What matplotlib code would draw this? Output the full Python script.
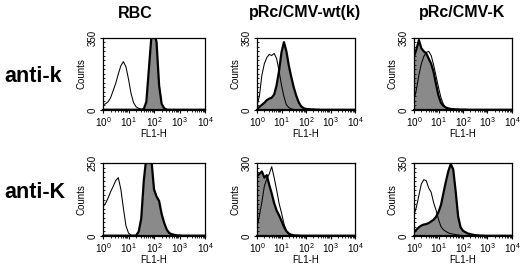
import numpy as np
import matplotlib
matplotlib.use("Agg")
import matplotlib.pyplot as plt
from matplotlib.ticker import FixedLocator, NullFormatter

plt.rcParams['font.family'] = ['Liberation Sans', 'DejaVu Sans']
plt.rcParams['mathtext.fontset'] = 'custom'
plt.rcParams['mathtext.rm'] = 'Liberation Sans'
plt.rcParams['mathtext.it'] = 'Liberation Sans'

# channel positions: decades of FL1-H (10^0 .. 10^4), one bin per 0.1 decade
decades = np.round(np.arange(0, 4.0001, 0.1), 1)

col_titles = ["RBC", "pRc/CMV-wt(k)", "pRc/CMV-K"]
row_labels = ["anti-k", "anti-K"]
y_max = [[350, 350, 350], [250, 300, 350]]
x_tick_labels = ["10$^0$", "10$^1$", "10$^2$", "10$^3$", "10$^4$"]

# Row 1 (anti-k)
rbc_k_open = [25, 30, 40, 60, 95, 130, 175, 215, 235, 210, 150, 80, 35, 15, 8, 4, 2, 1] + [0] * 23
rbc_k_fill = [1] * 15 + [1, 5, 40, 200, 360, 380, 330, 120, 30, 8, 2] + [1] * 15
wt_k_open = [20, 70, 170, 225, 255, 270, 265, 275, 250, 190, 120, 65, 25, 12, 5, 3, 1] + [0] * 24
wt_k_fill = [5, 15, 25, 35, 48, 55, 60, 75, 120, 190, 280, 330, 285, 215, 160, 110, 70, 38, 18, 9,
             5, 4, 3, 3, 2, 2] + [1] * 15
K_k_open = [50, 100, 170, 225, 260, 280, 285, 265, 220, 165, 110, 60, 28, 12, 5, 2, 1] + [0] * 24
K_k_fill = [260, 295, 340, 300, 285, 275, 250, 225, 185, 125, 70, 35, 20, 12, 8, 5, 4, 3, 3, 2,
            2, 2] + [1] * 19

# Row 2 (anti-K)
rbc_K_open = [100, 112, 130, 152, 170, 190, 200, 160, 95, 35, 10, 3, 1] + [0] * 28
rbc_K_fill = [1] * 13 + [2, 15, 60, 190, 270, 290, 260, 160, 135, 120, 75, 45, 22, 10, 6, 4, 2, 2] + [1] * 10
wt_K_open = [35, 85, 140, 205, 235, 255, 285, 240, 190, 135, 95, 50, 20, 8, 3, 1] + [0] * 25
wt_K_fill = [245, 255, 265, 240, 250, 210, 175, 135, 105, 85, 62, 38, 20, 10, 5, 3, 2, 2] + [1] * 23
K_K_open = [100, 140, 195, 250, 270, 265, 230, 210, 160, 125, 80, 45, 30, 22, 15, 11, 9, 7, 5, 3, 2] + [0] * 20
K_K_fill = [18, 30, 42, 50, 55, 57, 62, 70, 78, 92, 115, 148, 205, 260, 310, 345, 320, 215, 95, 42,
            25, 18, 12, 9, 6, 4, 3, 2, 2] + [1] * 12

open_curves = [[rbc_k_open, wt_k_open, K_k_open], [rbc_K_open, wt_K_open, K_K_open]]
fill_curves = [[rbc_k_fill, wt_k_fill, K_k_fill], [rbc_K_fill, wt_K_fill, K_K_fill]]

W, H = 520, 266
fig = plt.figure(figsize=(W / 100, H / 100), dpi=100)

col_left = [103, 257, 414]
col_width = [102, 98, 98]
row_top = [38, 163]
row_bottom = [110, 236]

x = 10 ** decades
for r in range(2):
    for c in range(3):
        l, w = col_left[c], col_width[c]
        t, b = row_top[r], row_bottom[r]
        ax = fig.add_axes([l / W, 1 - b / H, w / W, (b - t) / H])
        ym = y_max[r][c]
        fy = np.minimum(np.array(fill_curves[r][c], float), ym * 1.2)
        ax.fill_between(x, 0, fy, color='#8a8a8a', lw=0, zorder=1)
        ax.plot(x, fy, color='black', lw=1.6, zorder=3, solid_joinstyle='round')
        ax.plot(x, open_curves[r][c], color='black', lw=0.75, zorder=4)
        ax.set_xscale('log')
        ax.set_xlim(1, 1e4)
        ax.set_ylim(0, ym)
        ax.set_xticks([1, 10, 100, 1000, 10000])
        ax.set_xticklabels(x_tick_labels, fontsize=7.2)
        ax.xaxis.set_minor_locator(FixedLocator(
            [m * 10 ** d for d in range(4) for m in range(2, 10)]))
        ax.xaxis.set_minor_formatter(NullFormatter())
        ax.set_yticks([0, ym])
        ax.set_yticklabels(["0", str(ym)], fontsize=7, rotation=90, va='center')
        ax.yaxis.set_minor_locator(FixedLocator(np.linspace(0, ym, 17)))
        ax.tick_params(axis='both', which='major', length=2.5, width=0.8, pad=1.2, direction='out')
        ax.tick_params(axis='x', which='minor', length=1.5, width=0.6, direction='out')
        ax.tick_params(axis='y', which='minor', length=1.5, width=0.6, direction='in')
        ax.set_xlabel("FL1-H", fontsize=7, labelpad=0)
        ax.set_ylabel("Counts", fontsize=7, labelpad=1)
        for s in ax.spines.values():
            s.set_linewidth(0.9)
        ax.spines['bottom'].set_linewidth(1.6)

title_x = [135, 305, 462]
for c in range(3):
    fig.text(title_x[c] / W, 1 - 13 / H, col_titles[c], fontsize=11.5, fontweight='bold',
             ha='center', va='center')
row_y = [76, 192]
for r in range(2):
    fig.text(4 / W, 1 - row_y[r] / H, row_labels[r], fontsize=15.5, fontweight='bold',
             ha='left', va='center')

fig.savefig("out.png", dpi=100, facecolor='white')
